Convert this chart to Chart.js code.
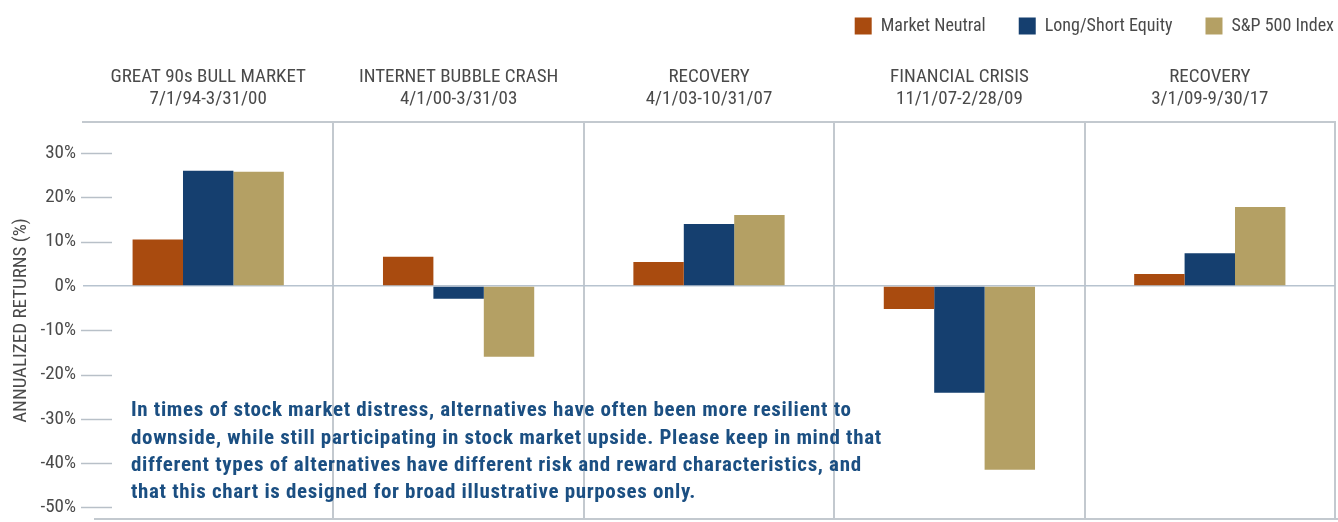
<!DOCTYPE html>
<html>
<head>
<meta charset="utf-8">
<script src="https://cdn.jsdelivr.net/npm/chart.js@4.4.0/dist/chart.umd.min.js"></script>
<style>
  html, body { margin: 0; padding: 0; background: #fff; }
  #wrap { width: 1338px; height: 522px; }
</style>
</head>
<body>
<div id="wrap"><canvas id="chart"></canvas></div>
<script>
const periodNames = ["GREAT 90s BULL MARKET", "INTERNET BUBBLE CRASH", "RECOVERY", "FINANCIAL CRISIS", "RECOVERY"];
const periodDates = ["7/1/94-3/31/00", "4/1/00-3/31/03", "4/1/03-10/31/07", "11/1/07-2/28/09", "3/1/09-9/30/17"];
const marketNeutral = [10.5, 6.6, 5.4, -5.2, 2.7];
const longShortEquity = [26.0, -2.9, 14.0, -24.1, 7.4];
const sp500 = [25.8, -16.0, 16.0, -41.5, 17.8];
const yTicks = [30, 20, 10, 0, -10, -20, -30, -40, -50];
const noteLines = [
  "In times of stock market distress, alternatives have often been more resilient to",
  "downside, while still participating in stock market upside. Please keep in mind that",
  "different types of alternatives have different risk and reward characteristics, and",
  "that this chart is designed for broad illustrative purposes only."
];

const FONT = "'Liberation Sans Narrow', 'Roboto Condensed', 'DejaVu Sans Condensed', 'Liberation Sans', sans-serif";
const TEXT = "#4a4a4a";
const LINE = "#c3c9cf";

// tick marks, bottom rule and the note text
const decor = {
  id: "decor",
  afterUpdate(chart) {
    // chart.js uses one padding for item gap and edge, so nudge the legend to the corner
    const lg = chart.legend;
    const pad = lg.options.labels.padding;
    const dx = chart.width - 4 + pad - lg.right;
    const dy = 17 - pad - lg.top;
    lg.left += dx; lg.right += dx;
    lg.top += dy; lg.bottom += dy;
  },
  beforeDatasetsDraw(chart) {
    const {ctx, chartArea, scales: {y}} = chart;
    ctx.save();
    ctx.strokeStyle = "#b8c0c8";
    ctx.lineWidth = 1.5;
    y.ticks.forEach(t => {
      if (t.value === 0) return;
      const py = Math.round(y.getPixelForValue(t.value)) + 0.5;
      ctx.beginPath();
      ctx.moveTo(chartArea.left - 2, py);
      ctx.lineTo(chartArea.left + 29, py);
      ctx.stroke();
    });
    ctx.strokeStyle = LINE;
    ctx.lineWidth = 2;
    ctx.beginPath();
    ctx.moveTo(chartArea.left + 11, chartArea.bottom);
    ctx.lineTo(chart.width, chartArea.bottom);
    ctx.stroke();
    ctx.restore();
  },
  afterDraw(chart) {
    const {ctx} = chart;
    ctx.save();
    ctx.fillStyle = "#1b4f82";
    ctx.font = "bold 21px " + FONT;
    ctx.letterSpacing = "0.65px";
    ctx.textBaseline = "middle";
    noteLines.forEach((s, i) => ctx.fillText(s, 131, 411 + i * 27.3));
    ctx.restore();
  }
};

new Chart(document.getElementById("chart"), {
  type: "bar",
  data: {
    labels: periodNames.map((n, i) => [n, periodDates[i]]),
    datasets: [
      { label: "Market Neutral", data: marketNeutral, backgroundColor: "#a94b0f" },
      { label: "Long/Short Equity", data: longShortEquity, backgroundColor: "#153f6f" },
      { label: "S&P 500 Index", data: sp500, backgroundColor: "#b4a064" }
    ]
  },
  options: {
    responsive: true,
    maintainAspectRatio: false,
    animation: false,
    layout: { padding: { left: 0, right: 3, top: 0, bottom: 3 } },
    datasets: { bar: { categoryPercentage: 0.604, barPercentage: 1.0 } },
    plugins: {
      legend: {
        position: "top",
        align: "end",
        labels: {
          boxWidth: 17, boxHeight: 17, padding: 33, color: TEXT,
          font: { family: FONT, size: 18 }
        }
      },
      tooltip: { enabled: false }
    },
    scales: {
      x: {
        position: "top",
        afterFit(scale) { scale.height = 122 - scale.chart.legend.height; },
        grid: {
          offset: true,
          drawTicks: false,
          color: c => (c.index === 0 || c.index === periodNames.length) ? "transparent" : LINE,
          lineWidth: 2
        },
        border: { display: true, color: LINE, width: 2 },
        ticks: { color: TEXT, padding: 12, font: { family: FONT, size: 19, lineHeight: 1.16 } }
      },
      y: {
        min: -52.6,
        max: 37.0,
        afterFit(scale) {
          scale.width = 83;
          scale.paddingTop = 0;
          scale.paddingBottom = 0;
        },
        afterBuildTicks(scale) { scale.ticks = yTicks.map(v => ({ value: v })); },
        grid: {
          drawTicks: false,
          color: c => (c.tick && c.tick.value === 0) ? "#b7c3cf" : "transparent",
          lineWidth: 1.5
        },
        border: { display: false },
        ticks: {
          color: TEXT, padding: 7,
          font: { family: FONT, size: 19 },
          callback: v => v + "%"
        },
        title: {
          display: true,
          text: "ANNUALIZED RETURNS (%)",
          color: TEXT,
          padding: { top: 10, bottom: 0 },
          font: { family: FONT, size: 19 }
        }
      }
    }
  },
  plugins: [decor]
});
</script>
</body>
</html>
